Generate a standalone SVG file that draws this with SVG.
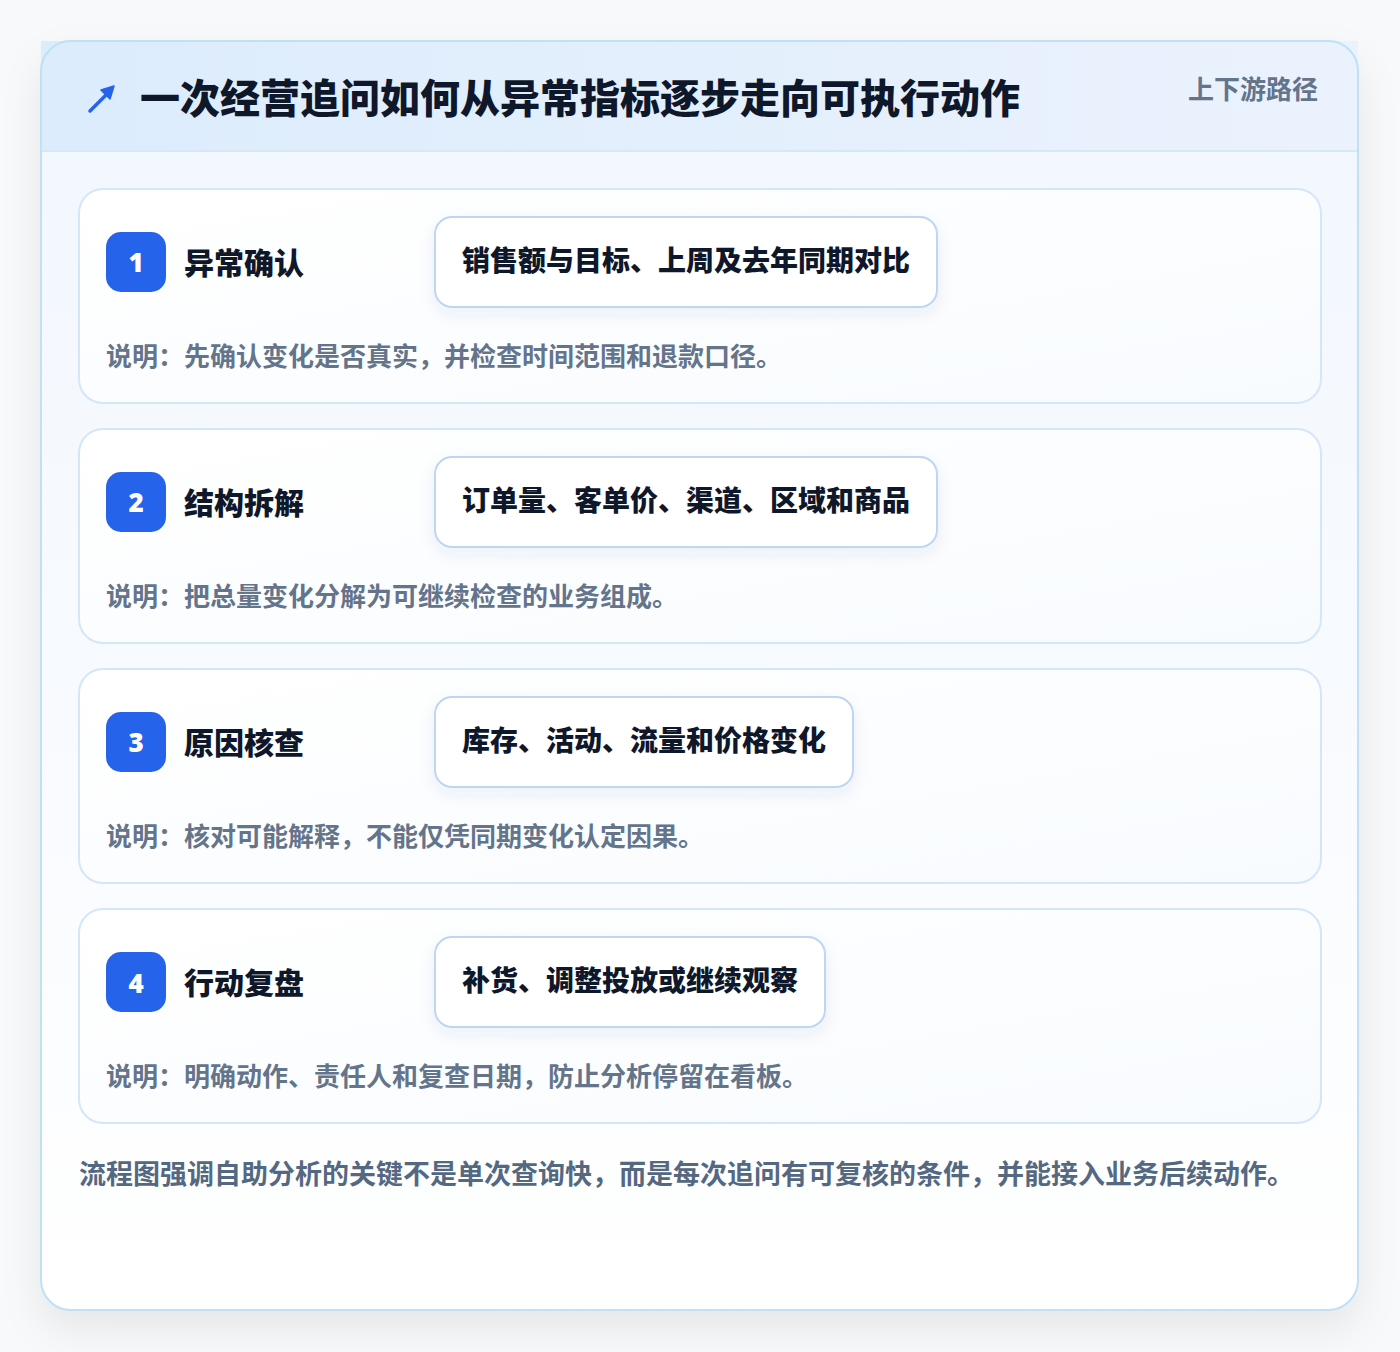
<svg xmlns="http://www.w3.org/2000/svg" width="1400" height="1352" viewBox="0 0 1400 1352">
<defs>
<linearGradient id="hdr" x1="0" y1="0" x2="1" y2="0"><stop offset="0" stop-color="#dcecfc"/><stop offset="1" stop-color="#ebf2fd"/></linearGradient>
<linearGradient id="body" x1="0" y1="0" x2="0" y2="1"><stop offset="0" stop-color="#f1f7fe"/><stop offset="0.6" stop-color="#f9fbfe"/><stop offset="1" stop-color="#ffffff"/></linearGradient>
<linearGradient id="step" x1="0" y1="0" x2="1" y2="1"><stop offset="0" stop-color="#ffffff"/><stop offset="1" stop-color="#f8fbfe"/></linearGradient>
<filter id="sh" x="-10%" y="-10%" width="120%" height="120%"><feDropShadow dx="0" dy="18" stdDeviation="20" flood-color="#0f172a" flood-opacity="0.08"/></filter>
<filter id="csh" x="-10%" y="-30%" width="120%" height="160%"><feDropShadow dx="0" dy="6" stdDeviation="8" flood-color="#1e3a8a" flood-opacity="0.07"/></filter>
<style>
text{font-family:"Noto Sans CJK SC","Noto Sans",sans-serif;font-weight:700}
.title{font-size:40px;fill:#0f172a;font-weight:900}
.tag{font-size:26px;fill:#64748b}
.stepcard{fill:url(#step);stroke:#d5e6f8;stroke-width:2}
.badge{fill:#2563eb}
.num{font-size:26px;fill:#ffffff;text-anchor:middle;font-family:"Noto Sans","DejaVu Sans",sans-serif;font-weight:900}
.stitle{font-size:30px;fill:#0f172a;font-weight:800}
.chip{fill:#ffffff;stroke:#bfd6f3;stroke-width:2}
.ctext{font-size:28px;fill:#0f172a;font-weight:800}
.desc{font-size:26px;fill:#64748b}
.foot{font-size:27px;fill:#556882}
</style>
</defs>
<rect width="1400" height="1352" fill="#f8f9fb"/>
<g id="frame">
<rect x="41" y="41" width="1317" height="1269" rx="30" fill="url(#body)" filter="url(#sh)"/>
<rect x="41" y="41" width="1317" height="110" fill="url(#hdr)"/>
<line x1="41" y1="151" x2="1358" y2="151" stroke="#d6e8f8" stroke-width="2"/>
<rect x="41" y="41" width="1317" height="1269" rx="30" fill="none" stroke="#bfe0f5" stroke-width="2"/>
</g>
<g id="header">
<g id="icon" stroke="#2563eb" stroke-width="3.5" stroke-linecap="round" fill="#2563eb">
<line x1="90" y1="111" x2="110" y2="91"/>
<path d="M114 86 L101 90 L110 99 Z" stroke-width="1.5" stroke-linejoin="round"/>
</g>
<text class="title" x="140" y="113">一次经营追问如何从异常指标逐步走向可执行动作</text>
<text class="tag" x="1318" y="99" text-anchor="end">上下游路径</text>
</g>
<g id="step1">
<rect class="stepcard" x="79" y="189" width="1242" height="214" rx="24"/>
<rect class="badge" x="106" y="232" width="60" height="60" rx="15"/>
<text class="num" x="136" y="272">1</text>
<text class="stitle" x="184" y="274">异常确认</text>
<rect class="chip" x="435" y="217" width="502" height="90" rx="17" filter="url(#csh)"/>
<text class="ctext" x="462" y="271">销售额与目标、上周及去年同期对比</text>
<text class="desc" x="106" y="366">说明：先确认变化是否真实，并检查时间范围和退款口径。</text>
</g>
<g id="step2">
<rect class="stepcard" x="79" y="429" width="1242" height="214" rx="24"/>
<rect class="badge" x="106" y="472" width="60" height="60" rx="15"/>
<text class="num" x="136" y="512">2</text>
<text class="stitle" x="184" y="514">结构拆解</text>
<rect class="chip" x="435" y="457" width="502" height="90" rx="17" filter="url(#csh)"/>
<text class="ctext" x="462" y="511">订单量、客单价、渠道、区域和商品</text>
<text class="desc" x="106" y="606">说明：把总量变化分解为可继续检查的业务组成。</text>
</g>
<g id="step3">
<rect class="stepcard" x="79" y="669" width="1242" height="214" rx="24"/>
<rect class="badge" x="106" y="712" width="60" height="60" rx="15"/>
<text class="num" x="136" y="752">3</text>
<text class="stitle" x="184" y="754">原因核查</text>
<rect class="chip" x="435" y="697" width="418" height="90" rx="17" filter="url(#csh)"/>
<text class="ctext" x="462" y="751">库存、活动、流量和价格变化</text>
<text class="desc" x="106" y="846">说明：核对可能解释，不能仅凭同期变化认定因果。</text>
</g>
<g id="step4">
<rect class="stepcard" x="79" y="909" width="1242" height="214" rx="24"/>
<rect class="badge" x="106" y="952" width="60" height="60" rx="15"/>
<text class="num" x="136" y="993">4</text>
<text class="stitle" x="184" y="994">行动复盘</text>
<rect class="chip" x="435" y="937" width="390" height="90" rx="17" filter="url(#csh)"/>
<text class="ctext" x="462" y="991">补货、调整投放或继续观察</text>
<text class="desc" x="106" y="1086">说明：明确动作、责任人和复查日期，防止分析停留在看板。</text>
</g>
<g id="connectors"></g>
<text class="foot" x="79" y="1184">流程图强调自助分析的关键不是单次查询快，而是每次追问有可复核的条件，并能接入业务后续动作。</text>
</svg>
